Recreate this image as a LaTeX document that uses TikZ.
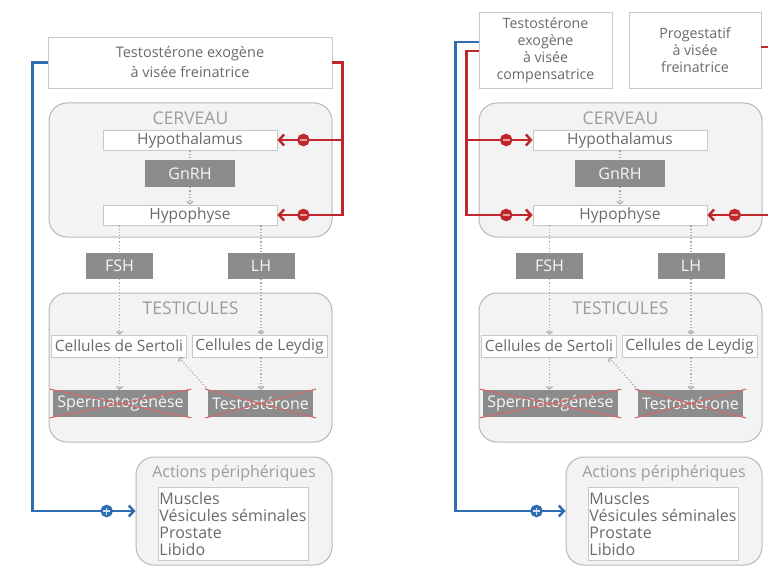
\documentclass[tikz,border=0pt]{standalone}
\usepackage{fontspec}
\setmainfont{Open Sans}
\usetikzlibrary{arrows.meta, calc}

\definecolor{boxline}{HTML}{C8C8C8}
\definecolor{txtgray}{HTML}{6A6A6A}
\definecolor{lblgray}{HTML}{9C9C9C}
\definecolor{organfill}{HTML}{F3F3F3}
\definecolor{organline}{HTML}{B8B8B8}
\definecolor{hormfill}{HTML}{8C8C8C}
\definecolor{dotgray}{HTML}{A8A8A8}
\definecolor{linkred}{HTML}{C0272D}
\definecolor{linkblue}{HTML}{2F6DB3}
\definecolor{crossred}{HTML}{D06A6A}

\tikzset{
  whitebox/.style={draw=boxline, fill=white, text=txtgray, inner sep=0pt, line width=0.8pt,
    font=\fontsize{15.5}{17}\selectfont},
  hormbox/.style={fill=hormfill, text=white!94!gray, inner sep=0pt, font=\fontsize{16}{18}\selectfont},
  organ/.style={draw=organline, fill=organfill, rounded corners=18pt, line width=1pt},
  organlabel/.style={text=lblgray, inner sep=0pt, font=\fontsize{17.5}{19}\selectfont},
  dotline/.style={draw=dotgray, dotted, line width=1.2pt},
  dotarrow/.style={dotline, -{Straight Barb[length=2.5pt,width=6pt]}},
  redlink/.style={draw=linkred, line width=2.5pt},
  redarrow/.style={redlink, -{Straight Barb[length=5pt,width=11pt]}},
  bluelink/.style={draw=linkblue, line width=2.5pt, -{Straight Barb[length=5pt,width=11pt]}},
  minusmark/.style={circle, draw=linkred, fill=linkred, line width=1.5pt, minimum size=11pt, inner sep=0pt,
    path picture={\draw[-, white!55!linkred, line width=1.6pt] ([xshift=2pt]path picture bounding box.west) -- ([xshift=-2pt]path picture bounding box.east);}},
  plusmark/.style={circle, draw=linkblue, fill=linkblue, line width=1.5pt, minimum size=11pt, inner sep=0pt,
    path picture={\draw[-, white!80!linkblue, line width=1.4pt]
      ([xshift=2pt]path picture bounding box.west) -- ([xshift=-2pt]path picture bounding box.east)
      ([yshift=-2pt]path picture bounding box.north) -- ([yshift=2pt]path picture bounding box.south);}},
  crossout/.style={draw=crossred, line width=1.1pt, shorten <=-3pt, shorten >=-3pt},
}

\begin{document}
\begin{tikzpicture}[x=1pt, y=-1pt]
    \useasboundingbox (0,0) rectangle (768,567);
    \clip (0,0) rectangle (768,567);
    \fill[white] (0,0) rectangle (768,567);

    % Same axis in both panels, the right one shifted by 430
    \foreach \s/\dx in {a/0, b/430} {
      % Organs
      \node[organ, minimum width=283pt, minimum height=134pt] (cerv\s) at (190.5+\dx,170) {};
      \node[organlabel] (cervl\s) at (190.5+\dx,118) {CERVEAU};
      \node[organ, minimum width=283pt, minimum height=149pt] (test\s) at (190.5+\dx,367.5) {};
      \node[organlabel] (testl\s) at (190.5+\dx,308) {TESTICULES};
      \node[organ, minimum width=196pt, minimum height=108pt] (act\s) at (234+\dx,511) {};
      \node[organlabel, font=\fontsize{16}{18}\selectfont] (actl\s) at (234+\dx,473) {Actions périphériques};

      % Boxes
      \node[whitebox, minimum width=174pt, minimum height=20pt] (hyth\s) at (190+\dx,140) {Hypothalamus};
      \node[hormbox, minimum width=90pt, minimum height=27pt] (gnrh\s) at (190+\dx,173.5) {GnRH};
      \node[whitebox, minimum width=174pt, minimum height=20pt] (hyph\s) at (190+\dx,215) {Hypophyse};
      \node[hormbox, minimum width=67pt, minimum height=26pt] (fsh\s) at (119.5+\dx,266) {FSH};
      \node[hormbox, minimum width=67pt, minimum height=26pt] (lh\s) at (261+\dx,266) {LH};
      \node[whitebox, minimum width=135pt, minimum height=22pt] (sert\s) at (119+\dx,346) {Cellules de Sertoli};
      \node[whitebox, minimum width=135pt, minimum height=22pt] (leyd\s) at (259.5+\dx,346) {Cellules de Leydig};
      \node[hormbox, minimum width=135pt, minimum height=27pt] (sperm\s) at (120.5+\dx,403.5) {Spermatogénèse};
      \node[hormbox, minimum width=105pt, minimum height=27pt] (testo\s) at (260.5+\dx,403.5) {Testostérone};
      \node[whitebox, minimum height=73pt, minimum width=150pt, align=left,
        font=\fontsize{16}{17}\selectfont] (list\s) at (233+\dx,523.5) {Muscles\\Vésicules séminales\\Prostate\\Libido};

      % Dotted links
      \draw[dotline] (hyth\s.south) -- (gnrh\s.north);
      \draw[dotarrow] (gnrh\s.south) -- (hyph\s.north);
      \draw[dotline] (hyph\s.south -| fsh\s.north) -- (fsh\s.north);
      \draw[dotarrow] (fsh\s.south) -- (sert\s.north -| fsh\s.south);
      \draw[dotline] (hyph\s.south -| lh\s.north) -- (lh\s.north);
      \draw[dotarrow] (lh\s.south) -- (leyd\s.north -| lh\s.south);
      \draw[dotarrow] (sert\s.south -| fsh\s.south) -- (sperm\s.north -| fsh\s.south);
      \draw[dotarrow] (leyd\s.south -| lh\s.south) -- (testo\s.north -| lh\s.south);
      \draw[dotarrow] (testo\s.north west) -- ($(sert\s.south east)+(-8,0)$);

      % Crossed out
      \draw[crossout] (sperm\s.north west) -- (sperm\s.south east);
      \draw[crossout] (sperm\s.south west) -- (sperm\s.north east);
      \draw[crossout] (testo\s.north west) -- (testo\s.south east);
      \draw[crossout] (testo\s.south west) -- (testo\s.north east);
    }

    % Treatments
    \node[whitebox, minimum width=284pt, minimum height=51pt, align=center,
      font=\fontsize{14.5}{20}\selectfont] (exoa) at (190,62.5) {Testostérone exogène\\à visée freinatrice};
    \node[whitebox, minimum width=133pt, minimum height=76pt, align=center,
      font=\fontsize{14.2}{17}\selectfont] (compb) at (545.5,50) {Testostérone\\exogène\\à visée\\compensatrice};
    \node[whitebox, minimum width=132pt, minimum height=76pt, align=center,
      font=\fontsize{14.2}{17}\selectfont] (progb) at (695,50) {Progestatif\\à visée\\freinatrice};

    % Left panel links
    \coordinate (rka) at ($(exoa.east)+(10,0)$);
    \draw[redarrow] (exoa.east) -- (rka) -- (rka |- hypha.east) -- node[minusmark, pos=0.6] (mpa) {} (hypha.east);
    \draw[redarrow] (rka |- hytha.east) -- node[minusmark, pos=0.6] (mha) {} (hytha.east);
    \draw[bluelink] (exoa.west) -- ++(-15,0) |- node[plusmark, pos=0.86] (pla) {} (acta.west);

    % Right panel links
    \coordinate (rkb) at ($(compb.west)+(-12,1)$);
    \draw[redarrow] ($(compb.west)+(0,1)$) -- (rkb) -- (rkb |- hyphb.west) -- node[minusmark, pos=0.6] (mpb) {} (hyphb.west);
    \draw[redarrow] (rkb |- hythb.west) -- node[minusmark, pos=0.6] (mhb) {} (hythb.west);
    \draw[bluelink] ($(compb.west)+(0,-8)$) -- ++(-23,0) |- node[plusmark, pos=0.868] (plb) {} (actb.west);
    \coordinate (rkc) at ($(progb.east)+(16,-3)$);
    \draw[redarrow] ($(progb.east)+(0,-3)$) -- (rkc) -- (rkc |- hyphb.east) -- node[minusmark, pos=0.61] (mpc) {} (hyphb.east);
\end{tikzpicture}
\end{document}
